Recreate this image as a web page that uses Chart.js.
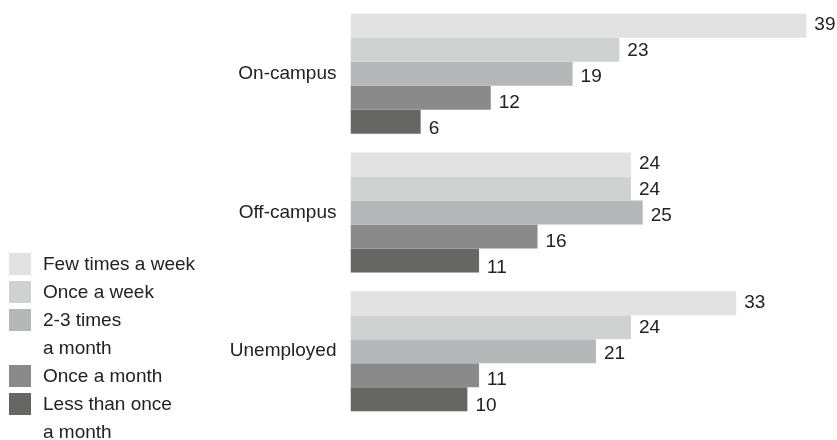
<!DOCTYPE html>
<html>
<head>
<meta charset="utf-8">
<script src="https://cdn.jsdelivr.net/npm/chart.js@4"></script>
<style>
  body { margin: 0; background: #fff; }
  #wrap { position: relative; width: 837px; height: 440px; }
  #legend { position: absolute; left: 9px; top: 250px; font: 19px 'Liberation Sans', Arial, sans-serif; color: #222; }
  #legend .row { height: 28px; line-height: 28px; display: flex; align-items: center; }
  #legend .box { width: 22px; height: 22px; margin-right: 12px; flex: none; }
</style>
</head>
<body>
<div id="wrap">
  <canvas id="chart" width="837" height="440"></canvas>
  <div id="legend"></div>
</div>
<script>
const groups = ['On-campus', 'Off-campus', 'Unemployed']
const seriesNames = [['Few times a week'], ['Once a week'], ['2-3 times', 'a month'], ['Once a month'], ['Less than once', 'a month']]
const fewTimesWeek = [39, 24, 33]
const onceWeek = [23, 24, 24]
const twoThreeMonth = [19, 25, 21]
const onceMonth = [12, 16, 11]
const lessThanOnce = [6, 11, 10]
const colors = ['#e2e2e2', '#d0d2d1', '#b6b7b8', '#8a8a8a', '#666665']

const series = [fewTimesWeek, onceWeek, twoThreeMonth, onceMonth, lessThanOnce]
const font = { family: "'Liberation Sans', Arial, sans-serif", size: 19 }

// value labels at the end of each bar
const valueLabels = {
  id: 'valueLabels',
  afterDatasetsDraw(chart) {
    const ctx = chart.ctx
    const yScale = chart.scales.y
    ctx.save()
    ctx.font = `${font.size}px ${font.family}`
    ctx.fillStyle = '#222'
    ctx.textBaseline = 'middle'
    chart.data.datasets.forEach((ds, i) => {
      chart.getDatasetMeta(i).data.forEach((bar, j) => {
        const center = yScale.getPixelForValue(j)
        const y = bar.y + (bar.y - center) * 0.08 + 3
        ctx.fillText(ds.data[j], bar.x + 8, y)
      })
    })
    ctx.restore()
  }
}

new Chart(document.getElementById('chart'), {
  type: 'bar',
  data: {
    labels: groups,
    datasets: series.map((data, i) => ({
      label: seriesNames[i].join(' '),
      data,
      backgroundColor: colors[i],
      borderWidth: 0
    }))
  },
  options: {
    indexAxis: 'y',
    responsive: false,
    animation: false,
    layout: { padding: { top: 4.5, bottom: 19.5, right: 19, left: 0 } },
    datasets: { bar: { categoryPercentage: 0.865, barPercentage: 1 } },
    plugins: { legend: { display: false }, tooltip: { enabled: false } },
    scales: {
      x: { display: false, min: 0, max: 40 },
      y: {
        grid: { display: false, drawTicks: false },
        border: { display: false },
        ticks: { font, color: '#222', padding: 14 },
        afterFit: scale => {
          scale.width = 350.5
          scale.paddingTop = 0
          scale.paddingBottom = 0
        }
      }
    }
  },
  plugins: [valueLabels]
})

document.getElementById('legend').innerHTML = seriesNames.map((lines, i) =>
  lines.map((text, k) => `
    <div class="row">
      <span class="box" style="background:${k === 0 ? colors[i] : 'transparent'}"></span>
      <span>${text}</span>
    </div>`).join('')
).join('')
</script>
</body>
</html>
